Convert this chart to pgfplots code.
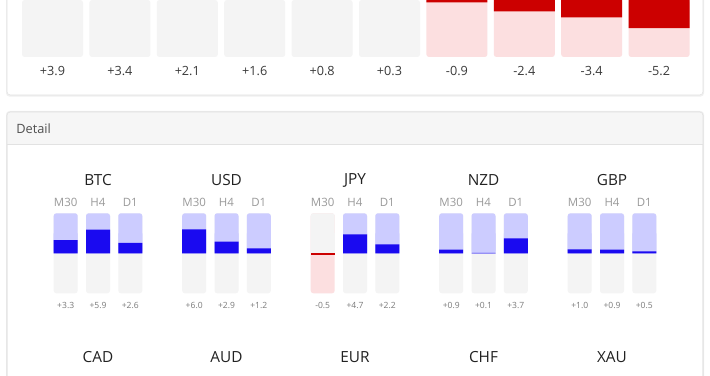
\documentclass[border=0pt]{standalone}
\usepackage{fontspec}
\setmainfont{Open Sans}
\usepackage{pgfplots}
\pgfplotsset{compat=1.18}
\definecolor{bggray}{HTML}{F4F4F4}
\definecolor{bgpink}{HTML}{FCDFE0}
\definecolor{dred}{HTML}{CC0000}
\definecolor{lblue}{HTML}{CCCCFF}
\definecolor{dblue}{HTML}{1A0AF0}
\definecolor{cardline}{HTML}{E2E2E2}
\definecolor{cardshadow}{HTML}{F0F0F0}
\definecolor{headbg}{HTML}{F6F6F6}
\definecolor{txtdark}{HTML}{3A3A3A}
\definecolor{txttitle}{HTML}{222222}
\definecolor{txtmid}{HTML}{505050}
\definecolor{txttf}{HTML}{9A9A9A}
\definecolor{txtval}{HTML}{7A7A7A}
\pgfplotsset{
  dash/.style={scale only axis, width=532.5pt, xmin=0, xmax=710, hide axis,
    anchor=south west,
    every axis plot/.append style={ybar, bar shift=0pt, draw=none}},
}
\begin{document}
\begin{tikzpicture}
\useasboundingbox (0,0) rectangle (532.5pt,281.25pt);
\clip (0,0) rectangle (532.5pt,281.25pt);
% top card
\fill[cardshadow, rounded corners=2.5pt] (4.5pt,208.8pt) rectangle (528pt,300pt);
\filldraw[fill=white, draw=cardline, rounded corners=2.5pt] (5.25pt,210pt) rectangle (527.25pt,300pt);
% detail card
\fill[cardshadow, rounded corners=2.5pt] (4.5pt,-20pt) rectangle (528pt,198pt);
\filldraw[fill=white, draw=cardline, rounded corners=2.5pt] (5.25pt,-20pt) rectangle (527.25pt,197.25pt);
\begin{scope}
\clip[rounded corners=2.5pt] (5.25pt,-20pt) rectangle (527.25pt,197.25pt);
\fill[headbg] (5.25pt,173.25pt) rectangle (527.25pt,197.25pt);
\end{scope}
\draw[cardline] (5.25pt,173.25pt) -- (527.25pt,173.25pt);
\draw[cardline, rounded corners=2.5pt] (5.25pt,-20pt) rectangle (527.25pt,197.25pt);
\node[anchor=west, inner sep=0pt, font=\fontsize{9.6}{11}\selectfont, text=txtmid] at (12pt,184.5pt) {Detail};

% ---------- top strength bars ----------
\begin{axis}[dash, at={(0pt,238.5pt)}, height=42.75pt, ymin=-10, ymax=-0.5, bar width=61]
\addplot[fill=bggray, rounded corners=2pt] coordinates {(52.5,-10) (119.9,-10) (187.3,-10) (254.7,-10) (322.1,-10) (389.5,-10)};
\addplot[fill=bgpink, rounded corners=2pt] coordinates {(456.9,-10) (524.3,-10) (591.7,-10) (659.1,-10)};
\addplot[fill=dblue] coordinates {(52.5,3.9) (119.9,3.4) (187.3,2.1) (254.7,1.6) (322.1,0.8) (389.5,0.3)};
\addplot[fill=dred] coordinates {(456.9,-0.9) (524.3,-2.4) (591.7,-3.4) (659.1,-5.2)};
\end{axis}
\begin{scope}[every node/.style={font=\fontsize{9.5}{11}\selectfont, text=txtdark}]
\node at (39.375pt,228pt) {+3.9};
\node at (89.925pt,228pt) {+3.4};
\node at (140.475pt,228pt) {+2.1};
\node at (191.025pt,228pt) {+1.6};
\node at (241.575pt,228pt) {+0.8};
\node at (292.125pt,228pt) {+0.3};
\node at (342.675pt,228pt) {-0.9};
\node at (393.225pt,228pt) {-2.4};
\node at (443.775pt,228pt) {-3.4};
\node at (494.325pt,228pt) {-5.2};
\end{scope}

% ---------- detail bars ----------
\begin{axis}[dash, at={(0pt,61.275pt)}, height=60pt, ymin=0, ymax=20, bar width=24]
\addplot[fill=bggray, rounded corners=2pt] coordinates {(65.7,20) (98,20) (130.3,20) (194.2,20) (226.5,20) (258.8,20) (355,20) (387.3,20) (451.2,20) (483.5,20) (515.8,20) (579.7,20) (612,20) (644.3,20)};
\addplot[fill=bgpink, rounded corners=2pt] coordinates {(322.7,20)};
\end{axis}
\begin{axis}[dash, at={(0pt,61.275pt)}, height=60pt, ymin=-10, ymax=10, bar width=24]
\addplot[fill=lblue, rounded corners=2pt] coordinates {(65.7,10) (98,10) (130.3,10) (194.2,10) (226.5,10) (258.8,10) (355,10) (387.3,10) (451.2,10) (483.5,10) (515.8,10) (579.7,10) (612,10) (644.3,10)};
\addplot[fill=lblue] coordinates {(65.7,5) (98,5) (130.3,5) (194.2,5) (226.5,5) (258.8,5) (355,5) (387.3,5) (451.2,5) (483.5,5) (515.8,5) (579.7,5) (612,5) (644.3,5)};
\addplot[fill=bggray, rounded corners=2pt] coordinates {(322.7,10)};
\addplot[fill=bggray] coordinates {(322.7,5)};
\addplot[fill=dblue] coordinates {(65.7,3.3) (98,5.9) (130.3,2.6) (194.2,6.0) (226.5,2.9) (258.8,1.2) (355,4.7) (387.3,2.2) (451.2,0.9) (483.5,0.1) (515.8,3.7) (579.7,1.0) (612,0.9) (644.3,0.5)};
\addplot[fill=dred] coordinates {(322.7,-0.5)};
\end{axis}

\begin{scope}[every node/.style={font=\fontsize{11.5}{13}\selectfont, text=txttitle}]
\node at (73.5pt,146.25pt) {BTC};
\node at (169.875pt,146.25pt) {USD};
\node at (266.25pt,146.25pt) {JPY};
\node at (362.625pt,146.25pt) {NZD};
\node at (459pt,146.25pt) {GBP};
\node at (73.5pt,13.5pt) {CAD};
\node at (169.875pt,13.5pt) {AUD};
\node at (266.25pt,13.5pt) {EUR};
\node at (362.625pt,13.5pt) {CHF};
\node at (459pt,13.5pt) {XAU};
\end{scope}
\begin{scope}[every node/.style={font=\fontsize{8.6}{10}\selectfont, text=txttf}]
\foreach \c in {73.5,169.875,266.25,362.625,459}{
  \node at (\c pt-24.225pt,129.75pt) {M30};
  \node at (\c pt,129.75pt) {H4};
  \node at (\c pt+24.225pt,129.75pt) {D1};
}
\end{scope}
\begin{scope}[every node/.style={font=\fontsize{6.4}{8}\selectfont, text=txtval}]
\node at (49.275pt,52.5pt) {+3.3};
\node at (73.5pt,52.5pt) {+5.9};
\node at (97.725pt,52.5pt) {+2.6};
\node at (145.65pt,52.5pt) {+6.0};
\node at (169.875pt,52.5pt) {+2.9};
\node at (194.1pt,52.5pt) {+1.2};
\node at (242.025pt,52.5pt) {-0.5};
\node at (266.25pt,52.5pt) {+4.7};
\node at (290.475pt,52.5pt) {+2.2};
\node at (338.4pt,52.5pt) {+0.9};
\node at (362.625pt,52.5pt) {+0.1};
\node at (386.85pt,52.5pt) {+3.7};
\node at (434.775pt,52.5pt) {+1.0};
\node at (459pt,52.5pt) {+0.9};
\node at (483.225pt,52.5pt) {+0.5};
\end{scope}
\end{tikzpicture}
\end{document}
